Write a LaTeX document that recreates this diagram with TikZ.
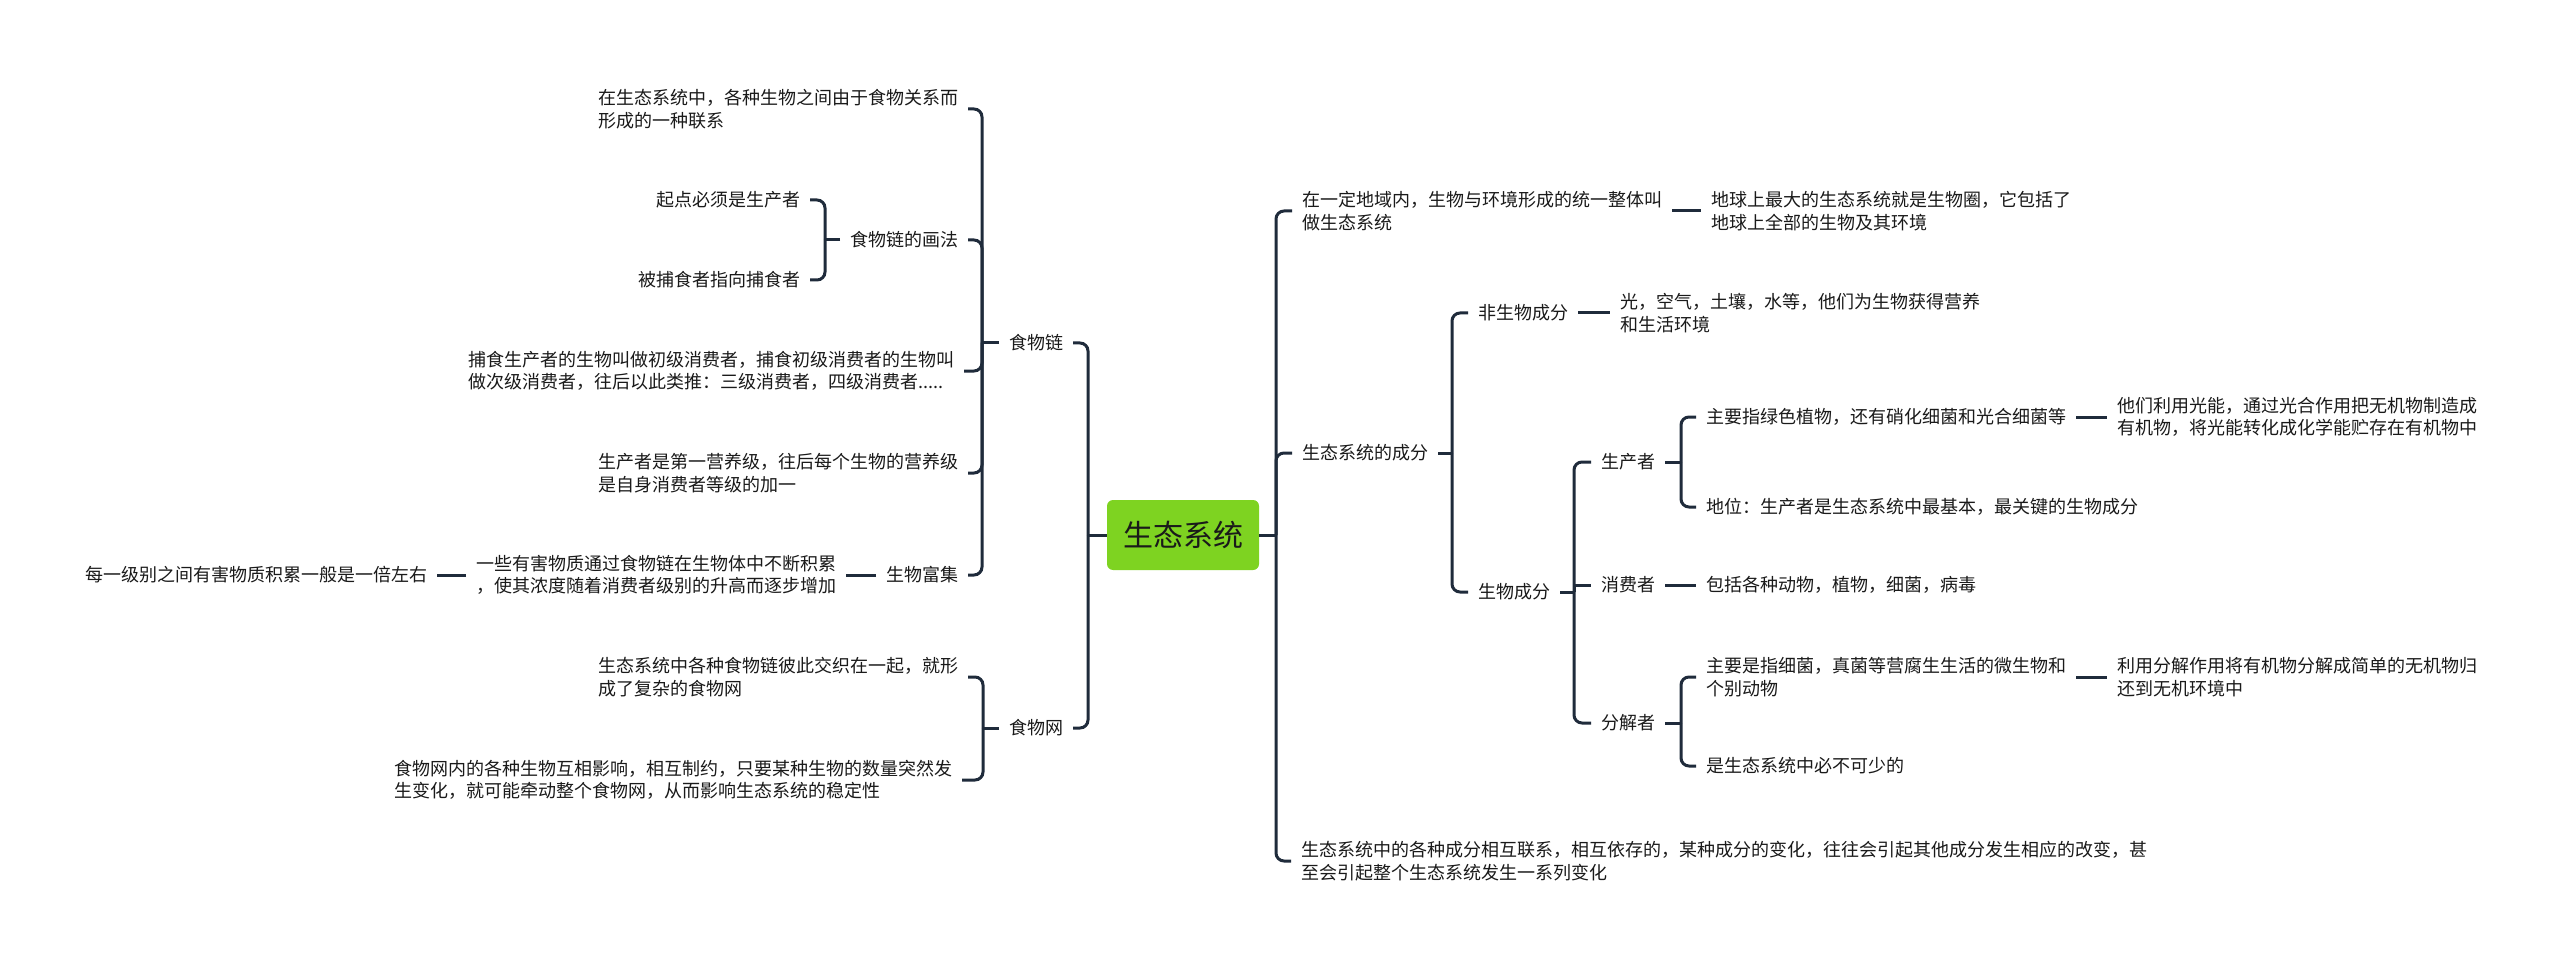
\documentclass[tikz,border=0pt]{standalone}
\usepackage{fontspec}
\setmainfont{Noto Sans CJK SC}
\definecolor{linecol}{HTML}{1F2B3B}
\definecolor{rootgreen}{HTML}{7ED321}
\definecolor{txtcol}{HTML}{1A1A1A}
\tikzset{
  topic/.style={inner sep=0pt, outer sep=5pt, align=left, text=txtcol,
    font=\fontsize{9pt}{11.25pt}\selectfont},
  lnode/.style={topic, anchor=east},
  rnode/.style={topic, anchor=west},
  rootbox/.style={fill=rootgreen, rounded corners=3pt, minimum width=76pt,
    minimum height=35pt, text=txtcol, font=\fontsize{15pt}{18pt}\selectfont},
  link/.style={draw=linecol, line width=1.5pt},
  branch/.style={link, rounded corners=4pt},
}
\begin{document}
\begin{tikzpicture}[x=0.5pt, y=-0.5pt]
  \useasboundingbox[fill=white] (0,0) rectangle (2560,968);

  % 1. 中心主题
  \node[rootbox] (root) at (1183,535) {生态系统};

  % 2. 左侧：食物链与食物网
  \node[lnode] (chain) at (1073,343) {食物链};
  \node[lnode] (web) at (1073,728) {食物网};
  \node[lnode] (chainDef) at (968,109) {在生态系统中，各种生物之间由于食物关系而\\形成的一种联系};
  \node[lnode] (chainDraw) at (968,240) {食物链的画法};
  \node[lnode] (drawStart) at (810,200) {起点必须是生产者};
  \node[lnode] (drawDir) at (810,280) {被捕食者指向捕食者};
  \node[lnode] (chainLevel) at (964,371) {捕食生产者的生物叫做初级消费者，捕食初级消费者的生物叫\\做次级消费者，往后以此类推：三级消费者，四级消费者.....};
  \node[lnode] (chainTroph) at (968,473) {生产者是第一营养级，往后每个生物的营养级\\是自身消费者等级的加一};
  \node[lnode] (bioacc) at (968,575) {生物富集};
  \node[lnode] (bioaccDesc) at (846,575) {一些有害物质通过食物链在生物体中不断积累\\，使其浓度随着消费者级别的升高而逐步增加};
  \node[lnode] (bioaccRate) at (437,575) {每一级别之间有害物质积累一般是一倍左右};
  \node[lnode] (webDef) at (968,677) {生态系统中各种食物链彼此交织在一起，就形\\成了复杂的食物网};
  \node[lnode] (webEffect) at (962,780) {食物网内的各种生物互相影响，相互制约，只要某种生物的数量突然发\\生变化，就可能牵动整个食物网，从而影响生态系统的稳定性};

  % 3. 右侧：概念与成分
  \node[rnode] (ecoDef) at (1292,211) {在一定地域内，生物与环境形成的统一整体叫\\做生态系统};
  \node[rnode] (ecoBio) at (1701,211) {地球上最大的生态系统就是生物圈，它包括了\\地球上全部的生物及其环境};
  \node[rnode] (ecoParts) at (1292,453) {生态系统的成分};
  \node[rnode] (ecoLink) at (1291,861) {生态系统中的各种成分相互联系，相互依存的，某种成分的变化，往往会引起其他成分发生相应的改变，甚\\至会引起整个生态系统发生一系列变化};
  \node[rnode] (abiotic) at (1468,313) {非生物成分};
  \node[rnode] (abioticDesc) at (1610,313) {光，空气，土壤，水等，他们为生物获得营养\\和生活环境};
  \node[rnode] (biotic) at (1468,592) {生物成分};
  \node[rnode] (producer) at (1591,462) {生产者};
  \node[rnode] (consumer) at (1591,585) {消费者};
  \node[rnode] (decomposer) at (1591,723) {分解者};
  \node[rnode] (prodWho) at (1696,417) {主要指绿色植物，还有硝化细菌和光合细菌等};
  \node[rnode] (prodFunc) at (2107,417) {他们利用光能，通过光合作用把无机物制造成\\有机物，将光能转化成化学能贮存在有机物中};
  \node[rnode] (prodRole) at (1696,507) {地位：生产者是生态系统中最基本，最关键的生物成分};
  \node[rnode] (consDesc) at (1696,585) {包括各种动物，植物，细菌，病毒};
  \node[rnode] (decWho) at (1696,677) {主要是指细菌，真菌等营腐生生活的微生物和\\个别动物};
  \node[rnode] (decFunc) at (2107,677) {利用分解作用将有机物分解成简单的无机物归\\还到无机环境中};
  \node[rnode] (decRole) at (1696,766) {是生态系统中必不可少的};

  % 4. 分支节点
  \coordinate (jRootL) at (1088,535);
  \coordinate (jChain) at (982,343);
  \coordinate (jDraw) at (825,240);
  \coordinate (jWeb) at (983,728);
  \coordinate (jRootR) at (1276,535);
  \coordinate (jParts) at (1452,453);
  \coordinate (jBiotic) at (1574,592);
  \coordinate (jProd) at (1681,462);
  \coordinate (jDec) at (1681,723);

  % 5. 连线（左）
  \draw[link] (root.west) -- (jRootL);
  \foreach \c in {chain,web} \draw[branch] (jRootL) |- (\c.east);
  \draw[link] (chain.west) -- (jChain);
  \foreach \c in {chainDef,chainDraw,chainLevel,chainTroph,bioacc}
    \draw[branch] (jChain) |- (\c.east);
  \draw[link] (chainDraw.west) -- (jDraw);
  \foreach \c in {drawStart,drawDir} \draw[branch] (jDraw) |- (\c.east);
  \draw[link] (bioacc.west) -- (bioaccDesc.east);
  \draw[link] (bioaccDesc.west) -- (bioaccRate.east);
  \draw[link] (web.west) -- (jWeb);
  \foreach \c in {webDef,webEffect} \draw[branch] (jWeb) |- (\c.east);

  % 6. 连线（右）
  \draw[link] (root.east) -- (jRootR);
  \foreach \c in {ecoDef,ecoParts,ecoLink} \draw[branch] (jRootR) |- (\c.west);
  \draw[link] (ecoDef.east) -- (ecoBio.west);
  \draw[link] (ecoParts.east) -- (jParts);
  \foreach \c in {abiotic,biotic} \draw[branch] (jParts) |- (\c.west);
  \draw[link] (abiotic.east) -- (abioticDesc.west);
  \draw[link] (biotic.east) -- (jBiotic);
  \foreach \c in {producer,decomposer} \draw[branch] (jBiotic) |- (\c.west);
  \draw[link] (jBiotic) |- (consumer.west);
  \draw[link] (producer.east) -- (jProd);
  \foreach \c in {prodWho,prodRole} \draw[branch] (jProd) |- (\c.west);
  \draw[link] (prodWho.east) -- (prodFunc.west);
  \draw[link] (consumer.east) -- (consDesc.west);
  \draw[link] (decomposer.east) -- (jDec);
  \foreach \c in {decWho,decRole} \draw[branch] (jDec) |- (\c.west);
  \draw[link] (decWho.east) -- (decFunc.west);
\end{tikzpicture}
\end{document}
